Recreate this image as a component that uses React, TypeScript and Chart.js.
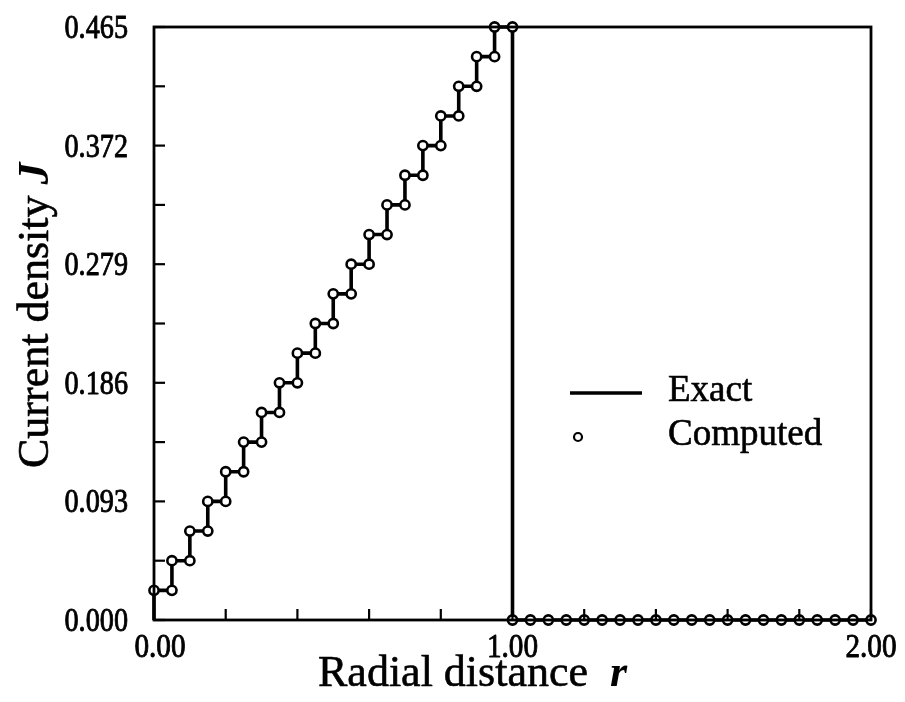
import { useEffect, useRef } from "react";
import { Chart, registerables } from "chart.js";

Chart.register(...registerables);

// Exact solution: staircase line
const R_EXACT = [
  0, 0, 0.05, 0.05, 0.1, 0.1, 0.15, 0.15, 0.2, 0.2, 0.25, 0.25, 0.3, 0.3, 0.35, 0.35, 0.4, 0.4,
  0.45, 0.45, 0.5, 0.5, 0.55, 0.55, 0.6, 0.6, 0.65, 0.65, 0.7, 0.7, 0.75, 0.75, 0.8, 0.8, 0.85,
  0.85, 0.9, 0.9, 0.95, 0.95, 1.0, 1.0, 2.0,
];
const J_EXACT = [
  0, 0.02325, 0.02325, 0.0465, 0.0465, 0.06975, 0.06975, 0.093, 0.093, 0.11625, 0.11625, 0.1395,
  0.1395, 0.16275, 0.16275, 0.186, 0.186, 0.20925, 0.20925, 0.2325, 0.2325, 0.25575, 0.25575,
  0.279, 0.279, 0.30225, 0.30225, 0.3255, 0.3255, 0.34875, 0.34875, 0.372, 0.372, 0.39525,
  0.39525, 0.4185, 0.4185, 0.44175, 0.44175, 0.465, 0.465, 0, 0,
];

// Computed values: markers
const R_COMPUTED = [
  0, 0.05, 0.05, 0.1, 0.1, 0.15, 0.15, 0.2, 0.2, 0.25, 0.25, 0.3, 0.3, 0.35, 0.35, 0.4, 0.4, 0.45,
  0.45, 0.5, 0.5, 0.55, 0.55, 0.6, 0.6, 0.65, 0.65, 0.7, 0.7, 0.75, 0.75, 0.8, 0.8, 0.85, 0.85,
  0.9, 0.9, 0.95, 0.95, 1.0, 1.0, 1.05, 1.1, 1.15, 1.2, 1.25, 1.3, 1.35, 1.4, 1.45, 1.5, 1.55,
  1.6, 1.65, 1.7, 1.75, 1.8, 1.85, 1.9, 1.95, 2.0,
];
const J_COMPUTED = [
  0.02325, 0.02325, 0.0465, 0.0465, 0.06975, 0.06975, 0.093, 0.093, 0.11625, 0.11625, 0.1395,
  0.1395, 0.16275, 0.16275, 0.186, 0.186, 0.20925, 0.20925, 0.2325, 0.2325, 0.25575, 0.25575,
  0.279, 0.279, 0.30225, 0.30225, 0.3255, 0.3255, 0.34875, 0.34875, 0.372, 0.372, 0.39525,
  0.39525, 0.4185, 0.4185, 0.44175, 0.44175, 0.465, 0.465, 0, 0, 0, 0, 0, 0, 0, 0, 0, 0, 0, 0,
  0, 0, 0, 0, 0, 0, 0, 0, 0,
];

const X_TICKS = [0, 0.2, 0.4, 0.6, 0.8, 1.0, 1.2, 1.4, 1.6, 1.8, 2.0];
const X_TICK_LABELS = ["0.00", "", "", "", "", "1.00", "", "", "", "", "2.00"];
const Y_TICKS = [0, 0.0465, 0.093, 0.1395, 0.186, 0.2325, 0.279, 0.3255, 0.372, 0.4185, 0.465];
const Y_TICK_LABELS = ["0.000", "", "0.093", "", "0.186", "", "0.279", "", "0.372", "", "0.465"];

const X_TITLE = "Radial distance";
const X_TITLE_VAR = "r";
const Y_TITLE = "Current density";
const Y_TITLE_VAR = "J";
const LEGEND_LABELS = ["Exact", "Computed"];

const SERIF = "'Liberation Serif', 'DejaVu Serif', serif";

function heavyText(ctx: any, s: string, x: number, y: number, w: number) {
  ctx.lineWidth = w;
  ctx.strokeText(s, x, y);
  ctx.fillText(s, x, y);
}

const framePlugin = {
  id: "frameAndDecor",
  afterDraw(chart: any) {
    const { ctx, chartArea } = chart;
    const xs = chart.scales.x;
    const ys = chart.scales.y;
    ctx.save();
    ctx.strokeStyle = "#000";
    ctx.lineWidth = 2.8;
    ctx.strokeRect(chartArea.left, chartArea.top, chartArea.right - chartArea.left, chartArea.bottom - chartArea.top);
    // inward ticks
    ctx.lineWidth = 2.2;
    const tl = 11;
    X_TICKS.forEach((v) => {
      const px = xs.getPixelForValue(v);
      ctx.beginPath();
      ctx.moveTo(px, chartArea.bottom);
      ctx.lineTo(px, chartArea.bottom - tl);
      ctx.stroke();
    });
    Y_TICKS.forEach((v) => {
      const py = ys.getPixelForValue(v);
      ctx.beginPath();
      ctx.moveTo(chartArea.left, py);
      ctx.lineTo(chartArea.left + tl, py);
      ctx.stroke();
    });

    // tick labels (condensed serif, slightly heavy like the scan)
    ctx.fillStyle = "#000";
    ctx.font = `34px ${SERIF}`;
    ctx.textBaseline = "alphabetic";
    ctx.lineJoin = "round";
    X_TICKS.forEach((v, i) => {
      const lab = X_TICK_LABELS[i];
      if (!lab) return;
      const px = xs.getPixelForValue(v);
      ctx.save();
      ctx.translate(px + (i === 0 ? 6 : 0), chartArea.bottom + 37);
      ctx.scale(0.86, 1);
      ctx.textAlign = "center";
      heavyText(ctx, lab, 0, 0, 0.9);
      ctx.restore();
    });
    Y_TICKS.forEach((v, i) => {
      const lab = Y_TICK_LABELS[i];
      if (!lab) return;
      const py = ys.getPixelForValue(v);
      ctx.save();
      ctx.translate(chartArea.left - 26, py + 11);
      ctx.scale(0.83, 1);
      ctx.textAlign = "right";
      heavyText(ctx, lab, 0, 0, 0.9);
      ctx.restore();
    });

    // axis titles
    ctx.textAlign = "left";
    const normal = `44px ${SERIF}`;
    const bi = `bold italic 44px ${SERIF}`;
    ctx.font = normal;
    const w1 = ctx.measureText(X_TITLE + "  ").width;
    heavyText(ctx, X_TITLE, 318, 686, 0.6);
    ctx.font = bi;
    ctx.fillText(X_TITLE_VAR, 318 + w1, 686);

    ctx.save();
    ctx.translate(48, 468);
    ctx.rotate(-Math.PI / 2);
    ctx.font = normal;
    const w2 = ctx.measureText(Y_TITLE + " ").width;
    heavyText(ctx, Y_TITLE, 0, 0, 0.6);
    ctx.font = bi;
    ctx.fillText(Y_TITLE_VAR, w2, 0);
    ctx.restore();

    // legend
    ctx.lineWidth = 3.4;
    ctx.beginPath();
    ctx.moveTo(570, 393);
    ctx.lineTo(642, 393);
    ctx.stroke();
    ctx.beginPath();
    ctx.arc(578, 437, 4, 0, Math.PI * 2);
    ctx.fillStyle = "#fff";
    ctx.fill();
    ctx.lineWidth = 2.2;
    ctx.stroke();
    ctx.fillStyle = "#000";
    ctx.font = `37px ${SERIF}`;
    ctx.textBaseline = "middle";
    heavyText(ctx, LEGEND_LABELS[0], 668, 391, 0.6);
    heavyText(ctx, LEGEND_LABELS[1], 668, 435, 0.6);
    ctx.restore();
  },
};

export default function App() {
  const ref = useRef<HTMLCanvasElement | null>(null);
  useEffect(() => {
    if (!ref.current) return;
    const chart = new Chart(ref.current, {
      type: "scatter",
      data: {
        datasets: [
          {
            label: LEGEND_LABELS[0],
            data: R_EXACT.map((r, i) => ({ x: r, y: J_EXACT[i] })),
            showLine: true,
            borderColor: "#000",
            borderWidth: 3.6,
            pointRadius: 0,
            clip: false as any,
            order: 2,
          },
          {
            label: LEGEND_LABELS[1],
            data: R_COMPUTED.map((r, i) => ({ x: r, y: J_COMPUTED[i] })),
            showLine: false,
            pointRadius: 4.6,
            pointBorderWidth: 2.6,
            pointBackgroundColor: "#fff",
            pointBorderColor: "#000",
            clip: false as any,
            order: 1,
          },
        ],
      },
      options: {
        responsive: false,
        animation: false,
        devicePixelRatio: 1,
        layout: { padding: { left: 0, top: 27, right: 34, bottom: 0 } },
        plugins: { legend: { display: false }, tooltip: { enabled: false } },
        scales: {
          x: {
            type: "linear",
            min: 0,
            max: 2,
            afterBuildTicks: (s: any) => {
              s.ticks = X_TICKS.map((v) => ({ value: v }));
            },
            afterFit: (s: any) => {
              s.height = 82;
            },
            ticks: { display: false },
            grid: { display: false, drawTicks: false },
            border: { display: false },
          },
          y: {
            type: "linear",
            min: 0,
            max: 0.465,
            afterBuildTicks: (s: any) => {
              s.ticks = Y_TICKS.map((v) => ({ value: v }));
            },
            afterFit: (s: any) => {
              s.width = 154;
            },
            ticks: { display: false },
            grid: { display: false, drawTicks: false },
            border: { display: false },
          },
        },
      },
      plugins: [framePlugin],
    });
    return () => chart.destroy();
  }, []);
  return (
    <div style={{ position: "absolute", left: 0, top: 0, width: 905, height: 702, background: "#fff" }}>
      <canvas ref={ref} width={905} height={702} />
    </div>
  );
}
